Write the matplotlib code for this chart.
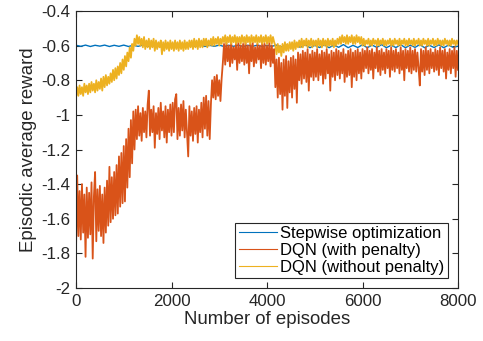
import numpy as np
import matplotlib
matplotlib.use('Agg')
import matplotlib.pyplot as plt

plt.rcParams['font.family'] = ['Liberation Sans', 'DejaVu Sans']
plt.rcParams['axes.unicode_minus'] = False

# episodes: DQN traces every 25 episodes, stepwise every 100
episodes = np.arange(0, 8001, 25)
episodes_step = np.arange(0, 8001, 100)

# Stepwise optimization
stepwise = [
    -0.598, -0.604, -0.597, -0.605, -0.598, -0.603, -0.597, -0.605, -0.598, -0.604,
    -0.597, -0.605, -0.598, -0.604, -0.597, -0.605, -0.598, -0.604, -0.597, -0.605,
    -0.598, -0.604, -0.597, -0.605, -0.598, -0.604, -0.597, -0.605, -0.598, -0.604,
    -0.597, -0.605, -0.598, -0.604, -0.597, -0.605, -0.598, -0.604, -0.597, -0.605,
    -0.598, -0.604, -0.597, -0.608, -0.596, -0.612, -0.597, -0.610, -0.594, -0.612,
    -0.598, -0.611, -0.595, -0.612, -0.597, -0.610, -0.594, -0.612, -0.598, -0.611,
    -0.595, -0.612, -0.597, -0.610, -0.594, -0.612, -0.598, -0.611, -0.595, -0.612,
    -0.597, -0.610, -0.594, -0.612, -0.598, -0.611, -0.595, -0.612, -0.597, -0.610,
    -0.603,
]

# DQN (with penalty), one row = 500 episodes
dqn_penalty = [
    -1.78, -1.35, -1.70, -1.44, -1.72, -1.40, -1.68, -1.46, -1.82, -1.42,
    -1.71, -1.45, -1.69, -1.39, -1.83, -1.47, -1.33, -1.73, -1.43, -1.67,
    -1.41, -1.70, -1.46, -1.74, -1.42, -1.68, -1.38, -1.64, -1.30, -1.62,
    -1.36, -1.60, -1.33, -1.58, -1.29, -1.57, -1.24, -1.53, -1.22, -1.51,
    -1.18, -1.50, -1.14, -1.42, -1.08, -1.36, -1.03, -1.28, -0.98, -1.20,
    -0.97, -1.14, -0.95, -1.12, -0.99, -1.15, -0.96, -1.10, -0.98, -1.13,
    -0.94, -0.86, -1.12, -0.97, -1.10, -0.95, -1.19, -0.99, -1.11, -0.96,
    -1.14, -0.93, -1.09, -0.98, -1.13, -0.95, -1.16, -0.97, -1.10, -0.94,
    -1.12, -0.93, -1.10, -0.91, -0.88, -1.14, -0.96, -1.12, -0.94, -1.09,
    -0.92, -1.13, -0.97, -1.10, -1.24, -0.95, -1.12, -0.98, -1.15, -0.96,
    -1.11, -0.95, -1.16, -0.97, -1.10, -0.93, -1.13, -0.90, -1.08, -0.89,
    -1.12, -0.92, -1.14, -0.94, -0.80, -0.90, -0.78, -0.91, -0.77, -0.89,
    -0.80, -0.92, -0.79, -0.70, -0.59, -0.71, -0.58, -0.69, -0.60, -0.72,
    -0.58, -0.70, -0.61, -0.68, -0.59, -0.74, -0.58, -0.70, -0.60, -0.69,
    -0.59, -0.71, -0.58, -0.70, -0.60, -0.76, -0.59, -0.69, -0.58, -0.72,
    -0.61, -0.70, -0.59, -0.68, -0.60, -0.73, -0.58, -0.70, -0.59, -0.71,
    -0.60, -0.69, -0.58, -0.72, -0.60, -0.70, -0.62, -0.84, -0.68, -0.90,
    -0.67, -0.88, -0.70, -0.97, -0.68, -0.89, -0.66, -0.96, -0.69, -0.87,
    -0.67, -0.90, -0.66, -0.85, -0.68, -0.93, -0.64, -0.80, -0.65, -0.82,
    -0.63, -0.79, -0.64, -0.81, -0.62, -0.86, -0.65, -0.78, -0.63, -0.80,
    -0.64, -0.78, -0.62, -0.80, -0.65, -0.77, -0.63, -0.82, -0.64, -0.79,
    -0.62, -0.76, -0.65, -0.86, -0.63, -0.78, -0.64, -0.80, -0.62, -0.77,
    -0.63, -0.79, -0.64, -0.76, -0.62, -0.81, -0.65, -0.78, -0.63, -0.77,
    -0.62, -0.84, -0.64, -0.78, -0.63, -0.80, -0.62, -0.76, -0.64, -0.79,
    -0.62, -0.75, -0.63, -0.73, -0.61, -0.76, -0.63, -0.74, -0.62, -0.79,
    -0.64, -0.73, -0.61, -0.75, -0.63, -0.77, -0.62, -0.74, -0.64, -0.76,
    -0.62, -0.73, -0.63, -0.78, -0.61, -0.74, -0.63, -0.75, -0.62, -0.73,
    -0.64, -0.76, -0.61, -0.74, -0.63, -0.80, -0.62, -0.73, -0.63, -0.75,
    -0.61, -0.76, -0.63, -0.74, -0.62, -0.75, -0.64, -0.73, -0.83, -0.62,
    -0.75, -0.63, -0.77, -0.61, -0.74, -0.63, -0.76, -0.62, -0.73, -0.64,
    -0.75, -0.62, -0.74, -0.63, -0.77, -0.61, -0.73, -0.63, -0.75, -0.62,
    -0.79, -0.64, -0.74, -0.62, -0.76, -0.63, -0.73, -0.61, -0.78, -0.63,
    -0.74,
]

# DQN (without penalty), one row = 500 episodes
dqn_no_penalty = [
    -0.90, -0.84, -0.89, -0.83, -0.88, -0.84, -0.89, -0.82, -0.87, -0.83,
    -0.88, -0.82, -0.87, -0.81, -0.86, -0.82, -0.87, -0.80, -0.86, -0.81,
    -0.85, -0.79, -0.86, -0.78, -0.84, -0.77, -0.83, -0.78, -0.82, -0.76,
    -0.81, -0.74, -0.80, -0.73, -0.79, -0.72, -0.77, -0.70, -0.76, -0.68,
    -0.74, -0.66, -0.72, -0.64, -0.69, -0.61, -0.67, -0.59, -0.63, -0.56,
    -0.60, -0.54, -0.59, -0.55, -0.60, -0.56, -0.61, -0.55, -0.62, -0.57,
    -0.61, -0.56, -0.62, -0.57, -0.61, -0.56, -0.63, -0.57, -0.62, -0.58,
    -0.61, -0.57, -0.65, -0.58, -0.63, -0.57, -0.62, -0.58, -0.63, -0.57,
    -0.62, -0.58, -0.63, -0.57, -0.62, -0.58, -0.63, -0.57, -0.62, -0.58,
    -0.63, -0.57, -0.62, -0.58, -0.62, -0.57, -0.61, -0.57, -0.62, -0.56,
    -0.61, -0.57, -0.62, -0.56, -0.61, -0.57, -0.61, -0.56, -0.60, -0.56,
    -0.61, -0.57, -0.60, -0.56, -0.60, -0.55, -0.60, -0.56, -0.59, -0.55,
    -0.60, -0.56, -0.59, -0.55, -0.58, -0.54, -0.59, -0.55, -0.58, -0.54,
    -0.59, -0.55, -0.58, -0.54, -0.59, -0.55, -0.58, -0.55, -0.59, -0.54,
    -0.58, -0.55, -0.59, -0.54, -0.58, -0.55, -0.59, -0.54, -0.58, -0.55,
    -0.58, -0.54, -0.59, -0.55, -0.58, -0.54, -0.59, -0.55, -0.58, -0.54,
    -0.59, -0.55, -0.58, -0.54, -0.59, -0.55, -0.58, -0.60, -0.65, -0.59,
    -0.64, -0.60, -0.66, -0.59, -0.64, -0.58, -0.63, -0.59, -0.63, -0.58,
    -0.62, -0.58, -0.63, -0.57, -0.62, -0.58, -0.61, -0.57, -0.61, -0.56,
    -0.61, -0.57, -0.60, -0.56, -0.61, -0.57, -0.60, -0.56, -0.61, -0.57,
    -0.60, -0.57, -0.61, -0.56, -0.60, -0.57, -0.61, -0.56, -0.60, -0.57,
    -0.61, -0.56, -0.60, -0.57, -0.60, -0.56, -0.61, -0.57, -0.60, -0.56,
    -0.59, -0.55, -0.59, -0.54, -0.58, -0.55, -0.59, -0.54, -0.59, -0.55,
    -0.58, -0.54, -0.59, -0.55, -0.59, -0.54, -0.58, -0.55, -0.59, -0.55,
    -0.60, -0.56, -0.60, -0.57, -0.59, -0.56, -0.60, -0.57, -0.60, -0.56,
    -0.59, -0.57, -0.60, -0.56, -0.60, -0.57, -0.59, -0.56, -0.60, -0.57,
    -0.60, -0.57, -0.59, -0.56, -0.60, -0.57, -0.60, -0.56, -0.59, -0.57,
    -0.60, -0.56, -0.60, -0.57, -0.59, -0.56, -0.60, -0.57, -0.60, -0.56,
    -0.59, -0.57, -0.60, -0.56, -0.60, -0.57, -0.59, -0.56, -0.60, -0.57,
    -0.60, -0.56, -0.59, -0.57, -0.60, -0.56, -0.60, -0.57, -0.59, -0.56,
    -0.60, -0.57, -0.60, -0.56, -0.59, -0.57, -0.60, -0.57, -0.60, -0.56,
    -0.59, -0.57, -0.60, -0.57, -0.60, -0.56, -0.59, -0.57, -0.60, -0.57,
    -0.59,
]

blue, red, yellow = '#0072BD', '#D95319', '#EDB120'

fig = plt.figure(figsize=(4.83, 3.41), dpi=100)
ax = fig.add_axes([76 / 483, 53 / 341, 382 / 483, 277 / 341])

ax.plot(episodes_step, stepwise, color=blue, lw=1.0, label='Stepwise optimization')
ax.plot(episodes, dqn_penalty, color=red, lw=1.3, label='DQN (with penalty)')
ax.plot(episodes, dqn_no_penalty, color=yellow, lw=1.3, label='DQN (without penalty)')

ax.set_xlim(0, 8000)
ax.set_ylim(-2, -0.4)
ax.set_xticks([0, 2000, 4000, 6000, 8000])
yt = np.arange(-2, -0.39, 0.2)
ax.set_yticks(yt)
ax.set_yticklabels(['%g' % round(v, 1) for v in yt])

dark = '#262626'
for s in ax.spines.values():
    s.set_color(dark)
    s.set_linewidth(0.8)
ax.tick_params(direction='in', top=True, right=True, length=4, width=0.8,
               labelsize=12.2, colors=dark, pad=4)
ax.set_xlabel('Number of episodes', fontsize=13.4, color=dark, labelpad=2)
ax.set_ylabel('Episodic average reward', fontsize=13.4, color=dark, labelpad=3)

leg = ax.legend(loc='lower right', fontsize=12, fancybox=False, framealpha=1,
                edgecolor=dark, borderaxespad=0.6, borderpad=0.2,
                labelspacing=0.1, handlelength=2.3, handletextpad=0.2)
leg.get_frame().set_linewidth(0.8)
for line in leg.get_lines():
    line.set_linewidth(0.8)

fig.savefig('out.png', dpi=100)
